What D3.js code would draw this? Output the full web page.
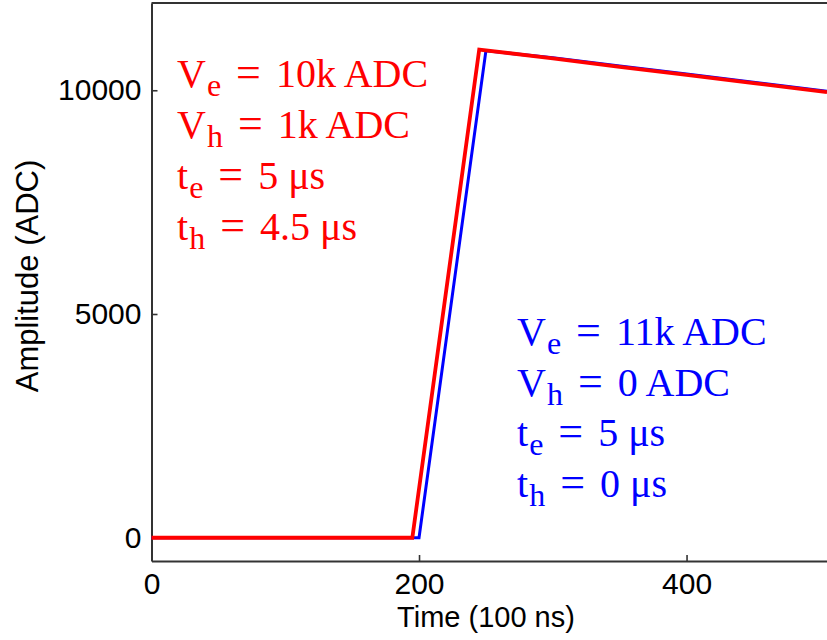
<!DOCTYPE html>
<html><head><meta charset="utf-8">
<script src="https://cdn.jsdelivr.net/npm/d3@7"></script>
<style>body{margin:0;background:#fff}svg{display:block}</style>
</head><body>
<svg id="c" width="827" height="640"></svg>
<script>
// ---- data ----
const redTime = [0, 195, 245, 300, 350, 400, 450, 505];
const redAmp  = [0, 0, 10910, 10710, 10525, 10345, 10160, 9960];
const blueTime = [0, 200, 250, 300, 350, 400, 450, 505];
const blueAmp  = [0, 0, 10880, 10728, 10543, 10363, 10178, 9978];
const xTicks = [0, 200, 400];
const yTicks = [0, 5000, 10000];
const xLabel = "Time (100 ns)";
const yLabel = "Amplitude (ADC)";
// annotation lines: [main, subscript, value]
const redNotes  = [["V","e","10k ADC"],["V","h","1k ADC"],["t","e","5 μs"],["t","h","4.5 μs"]];
const blueNotes = [["V","e","11k ADC"],["V","h","0 ADC"],["t","e","5 μs"],["t","h","0 μs"]];

// ---- layout ----
const svg = d3.select("#c");
const x = d3.scaleLinear().domain([0, 505]).range([151.5, 827]);
const y = d3.scaleLinear().domain([-520, 11950]).range([561, 3]);
const axisColor = "#333";
const sans = "'Liberation Sans', Arial, sans-serif";
const serif = "'Liberation Serif', 'Times New Roman', serif";

// top frame line
svg.append("line").attr("x1", x(0)).attr("x2", 827).attr("y1", y.range()[1]).attr("y2", y.range()[1])
  .attr("stroke", axisColor).attr("stroke-width", 2);

const fmt = d3.format("d");
const gx = svg.append("g").attr("transform", `translate(0,${y.range()[0]})`)
  .call(d3.axisBottom(x).tickValues(xTicks).tickFormat(fmt).tickSize(-6).tickPadding(12).tickSizeOuter(0));
const gy = svg.append("g").attr("transform", `translate(${x(0)},0)`)
  .call(d3.axisLeft(y).tickValues(yTicks).tickFormat(fmt).tickSize(-6).tickPadding(10).tickSizeOuter(0));
[gx, gy].forEach(g => {
  g.select(".domain").attr("stroke", axisColor).attr("stroke-width", 2);
  g.selectAll(".tick line").attr("stroke", axisColor).attr("stroke-width", 1.6);
  g.selectAll(".tick text").attr("fill", "#000").style("font-family", sans).style("font-size", "30px");
});

svg.append("text").attr("x", 486).attr("y", 627).attr("text-anchor", "middle")
  .style("font-family", sans).style("font-size", "29px").text(xLabel);
svg.append("text").attr("transform", "translate(38,276) rotate(-90)").attr("text-anchor", "middle")
  .style("font-family", sans).style("font-size", "31px").text(yLabel);

// lines
const line = d3.line().x(d => x(d[0])).y(d => y(d[1]));
const blueData = blueTime.map((t, i) => [t, blueAmp[i]]);
const redData = redTime.map((t, i) => [t, redAmp[i]]);
svg.append("path").datum(blueData).attr("d", line).attr("fill", "none")
  .attr("stroke", "#0000ff").attr("stroke-width", 3);
svg.append("path").datum(redData).attr("d", line).attr("fill", "none")
  .attr("stroke", "#ff0000").attr("stroke-width", 3.8);

// annotations
function notes(list, x0, y0, dyLine, color) {
  list.forEach((n, i) => {
    const t = svg.append("text").attr("x", x0).attr("y", y0 + i * dyLine)
      .attr("fill", color).style("font-family", serif).style("font-size", "40px");
    t.append("tspan").text(n[0]);
    t.append("tspan").attr("dy", 9).attr("dx", 1).style("font-size", "32px").text(n[1]);
    t.append("tspan").attr("dy", -9).attr("dx", 15).style("font-size", "44px").text("=");
    t.append("tspan").attr("dx", 15).text(n[2]);
  });
}
notes(redNotes, 177, 87, 51, "#ff0000");
notes(blueNotes, 517, 345, 50.7, "#0000ff");
</script>
</body></html>
